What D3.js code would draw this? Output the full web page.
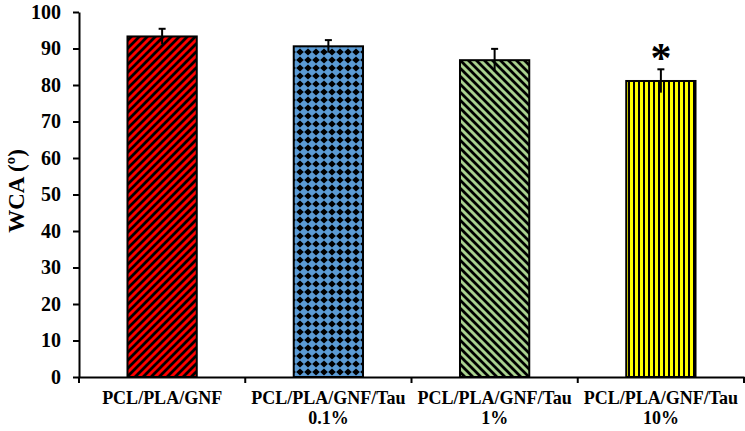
<!DOCTYPE html>
<html lang="en">
<head>
    <meta charset="UTF-8">
    <title>WCA bar chart</title>
    <script src="https://d3js.org/d3.v7.min.js"></script>
    <style>
        body { margin: 0; background: #fff; }
        text { font-family: "Liberation Serif", "Times New Roman", serif; font-weight: bold; }
        .axis path, .axis line { stroke: #000; stroke-width: 2px; }
        .axis text { font-size: 20px; fill: #000; font-family: "Liberation Serif", serif; }
    </style>
</head>
<body>
    <script>
        // chart data
        const categories = ["PCL/PLA/GNF", "PCL/PLA/GNF/Tau 0.1%", "PCL/PLA/GNF/Tau 1%", "PCL/PLA/GNF/Tau 10%"];
        const labelLines = [["PCL/PLA/GNF"], ["PCL/PLA/GNF/Tau", "0.1%"], ["PCL/PLA/GNF/Tau", "1%"], ["PCL/PLA/GNF/Tau", "10%"]];
        const values = [93.3, 90.6, 86.8, 81.1];
        const errors = [2.1, 1.7, 3.1, 3.2];
        const significant = [false, false, false, true];
        const yTicks = [0, 10, 20, 30, 40, 50, 60, 70, 80, 90, 100];

        const width = 745, height = 431;
        const margin = {top: 12, right: 1, bottom: 54, left: 79};

        const svg = d3.select("body").append("svg")
            .attr("width", width)
            .attr("height", height);

        // fill patterns (Excel style)
        const defs = svg.append("defs");

        const upDiag = defs.append("pattern").attr("id", "p0")
            .attr("patternUnits", "userSpaceOnUse").attr("width", 8).attr("height", 8);
        upDiag.append("rect").attr("width", 8).attr("height", 8).attr("fill", "#ff0000");
        upDiag.append("path").attr("d", "M-2,10 L10,-2 M-2,2 L2,-2 M6,10 L10,6")
            .attr("stroke", "#000").attr("stroke-width", 2.8);

        const diamond = defs.append("pattern").attr("id", "p1")
            .attr("patternUnits", "userSpaceOnUse").attr("width", 8).attr("height", 8);
        diamond.append("rect").attr("width", 8).attr("height", 8).attr("fill", "#5b9bd5");
        diamond.append("path").attr("d", "M4,0.4 L7.8,4 L4,7.6 L0.2,4 Z").attr("fill", "#000");

        const downDiag = defs.append("pattern").attr("id", "p2")
            .attr("patternUnits", "userSpaceOnUse").attr("width", 8).attr("height", 8);
        downDiag.append("rect").attr("width", 8).attr("height", 8).attr("fill", "#a9d18e");
        downDiag.append("path").attr("d", "M-2,-2 L10,10 M6,-2 L10,2 M-2,6 L2,10")
            .attr("stroke", "#000").attr("stroke-width", 2.8);

        const vert = defs.append("pattern").attr("id", "p3")
            .attr("patternUnits", "userSpaceOnUse").attr("width", 5).attr("height", 5);
        vert.append("rect").attr("width", 5).attr("height", 5).attr("fill", "#ffff00");
        vert.append("rect").attr("x", 3).attr("width", 2).attr("height", 5).attr("fill", "#000");

        const x = d3.scaleBand()
            .domain(categories)
            .range([margin.left, width - margin.right])
            .padding(0);

        const y = d3.scaleLinear()
            .domain([0, 100])
            .range([height - margin.bottom, margin.top]);

        const barW = x.bandwidth() / 2.4;

        // y axis
        svg.append("g")
            .attr("class", "axis")
            .attr("transform", `translate(${margin.left},0)`)
            .call(d3.axisLeft(y).tickValues(yTicks).tickSize(6).tickSizeOuter(0).tickPadding(12));

        // x axis line and boundary ticks
        const xAxis = svg.append("g")
            .attr("class", "axis")
            .attr("transform", `translate(0,${y(0)})`)
            .call(d3.axisBottom(x).tickSize(0).tickSizeOuter(0).tickFormat(""));
        const bounds = categories.map(c => x(c)).concat([x.range()[1]]);
        xAxis.selectAll(".bound")
            .data(bounds)
            .enter().append("line")
            .attr("class", "bound")
            .attr("x1", d => d).attr("x2", d => d)
            .attr("y1", 0).attr("y2", 6);

        // bars
        svg.append("g").selectAll("rect")
            .data(categories)
            .enter().append("rect")
            .attr("x", d => x(d) + (x.bandwidth() - barW) / 2)
            .attr("y", (d, i) => y(values[i]))
            .attr("width", barW)
            .attr("height", (d, i) => y(0) - y(values[i]))
            .attr("fill", (d, i) => `url(#p${i})`)
            .attr("stroke", "#000")
            .attr("stroke-width", 2);

        // error bars
        const err = svg.append("g").attr("stroke", "#000").attr("stroke-width", 2);
        categories.forEach((c, i) => {
            const cx = x(c) + x.bandwidth() / 2;
            err.append("line")
                .attr("x1", cx).attr("x2", cx)
                .attr("y1", y(values[i] + errors[i])).attr("y2", y(values[i] - errors[i]));
            err.append("line")
                .attr("x1", cx - 3.5).attr("x2", cx + 3.5)
                .attr("y1", y(values[i] + errors[i])).attr("y2", y(values[i] + errors[i]));
        });

        // significance marks
        svg.append("g").selectAll("text")
            .data(categories.filter((c, i) => significant[i]))
            .enter().append("text")
            .attr("x", d => x(d) + x.bandwidth() / 2)
            .attr("y", d => y(values[categories.indexOf(d)] + errors[categories.indexOf(d)]) + 3)
            .attr("text-anchor", "middle")
            .style("font-size", "42px")
            .text("*");

        // category labels
        const lab = svg.append("g").selectAll("text")
            .data(categories)
            .enter().append("text")
            .attr("text-anchor", "middle")
            .style("font-size", "18px")
            .attr("x", d => x(d) + x.bandwidth() / 2)
            .attr("y", 404);
        lab.each(function(d, i) {
            d3.select(this).selectAll("tspan")
                .data(labelLines[i])
                .enter().append("tspan")
                .attr("x", x(d) + x.bandwidth() / 2)
                .attr("dy", (t, j) => j === 0 ? 0 : 20)
                .text(t => t);
        });

        // y label
        svg.append("text")
            .attr("transform", "translate(24,191) rotate(-90)")
            .attr("text-anchor", "middle")
            .style("font-size", "23px")
            .text("WCA (º)");
    </script>
</body>
</html>
